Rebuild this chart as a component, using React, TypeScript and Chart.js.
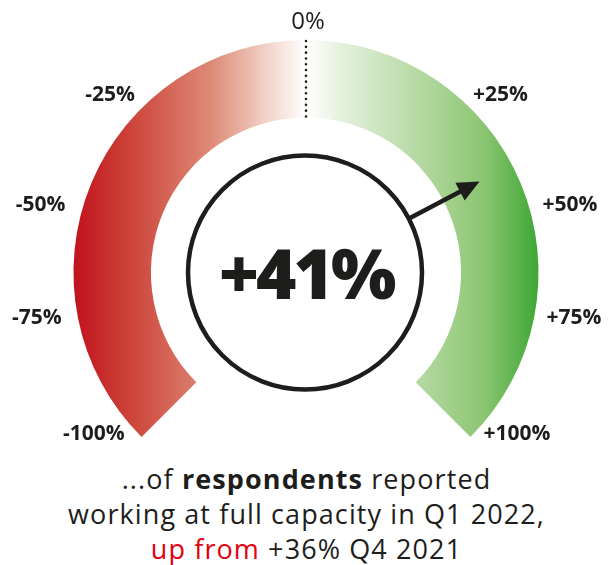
import React, { useEffect, useRef } from "react";
import { Chart, registerables } from "chart.js";

Chart.register(...registerables);

// ---- data ----
const SEGMENT_NAMES = ["Below 0%", "Above 0%"];
const SEGMENT_SPANS = [100, 100]; // -100..0 and 0..100
const TICK_VALUES = [-100, -75, -50, -25, 0, 25, 50, 75, 100];
const TICK_LABELS = ["-100%", "-75%", "-50%", "-25%", "0%", "+25%", "+50%", "+75%", "+100%"];
const CURRENT_VALUE = 41;
const CURRENT_LABEL = "+41%";
const PREVIOUS_LABEL = "+36%";
const CURRENT_PERIOD = "Q1 2022";
const PREVIOUS_PERIOD = "Q4 2021";

// ---- gauge scale (degrees from the top, for |value| = 0, 25, 50, 75, 100) ----
const SCALE_ANGLES = [0, 41.5, 74, 102, 135];
function valueToAngle(v: number): number {
  const a = Math.min(100, Math.abs(v));
  const i = Math.min(3, Math.floor(a / 25));
  const t = (a - i * 25) / 25;
  const deg = SCALE_ANGLES[i] + t * (SCALE_ANGLES[i + 1] - SCALE_ANGLES[i]);
  return (Math.sign(v) * deg * Math.PI) / 180;
}

const INK = "#1d1d1b";
const FONT = "'Open Sans', 'Noto Sans', sans-serif";

const gaugePlugin = {
  id: "gaugeDecor",
  afterDraw(chart: any) {
    const arc = chart.getDatasetMeta(0).data[0];
    if (!arc) return;
    const { x: cx, y: cy, outerRadius: R, innerRadius: r } = arc;
    const ctx = chart.ctx;
    ctx.save();

    // dotted zero line
    ctx.strokeStyle = INK;
    ctx.lineWidth = 2.6;
    ctx.lineCap = "round";
    ctx.setLineDash([0, 5.8]);
    ctx.beginPath();
    ctx.moveTo(cx, cy - R + 1);
    ctx.lineTo(cx, cy - r - 1);
    ctx.stroke();
    ctx.setLineDash([]);

    // centre circle
    const cr = 117;
    ctx.lineWidth = 4.5;
    ctx.lineCap = "butt";
    ctx.beginPath();
    ctx.arc(cx - 1, cy, cr, 0, Math.PI * 2);
    ctx.stroke();

    // arrow
    const ang = valueToAngle(CURRENT_VALUE);
    const sx = Math.sin(ang), sy = -Math.cos(ang);
    const tipR = 196, headLen = 22, headHalf = 10;
    const x0 = cx + sx * (cr + 1), y0 = cy + sy * (cr + 1);
    const xb = cx + sx * (tipR - headLen + 2), yb = cy + sy * (tipR - headLen + 2);
    ctx.lineWidth = 4.5;
    ctx.beginPath();
    ctx.moveTo(x0, y0);
    ctx.lineTo(xb, yb);
    ctx.stroke();
    const tx = cx + sx * tipR, ty = cy + sy * tipR;
    const bx = cx + sx * (tipR - headLen), by = cy + sy * (tipR - headLen);
    const px = -sy, py = sx;
    ctx.fillStyle = INK;
    ctx.beginPath();
    ctx.moveTo(tx, ty);
    ctx.lineTo(bx + px * headHalf, by + py * headHalf);
    ctx.lineTo(bx - px * headHalf, by - py * headHalf);
    ctx.closePath();
    ctx.fill();

    // value text
    ctx.fillStyle = INK;
    ctx.font = `800 69px ${FONT}`;
    try { (ctx as any).letterSpacing = "-3px"; } catch (e) {}
    ctx.textAlign = "center";
    ctx.textBaseline = "alphabetic";
    ctx.fillText(CURRENT_LABEL, cx, cy + 26);
    try { (ctx as any).letterSpacing = "0px"; } catch (e) {}

    // tick labels
    ctx.textBaseline = "middle";
    TICK_VALUES.forEach((v, i) => {
      const label = TICK_LABELS[i];
      const a = valueToAngle(v);
      if (v === 0) {
        ctx.font = `500 24px ${FONT}`;
        ctx.textAlign = "center";
        ctx.fillText(label, cx + 2, cy - R - 18);
        return;
      }
      ctx.font = `700 21px ${FONT}`;
      const w = ctx.measureText(label).width;
      const ex = cx + R * Math.sin(a);
      const ey = cy - R * Math.cos(a);
      const gap = v < 0 ? 17 : 13;
      ctx.textAlign = "center";
      const lx = v < 0 ? ex - gap - w / 2 : ex + gap + w / 2;
      ctx.fillText(label, lx, ey - 3);
    });

    ctx.restore();
  },
};

export default function App() {
  const canvasRef = useRef<HTMLCanvasElement | null>(null);

  useEffect(() => {
    const canvas = canvasRef.current;
    if (!canvas) return;
    const chart = new Chart(canvas, {
      type: "doughnut",
      data: {
        labels: SEGMENT_NAMES,
        datasets: [
          {
            data: SEGMENT_SPANS,
            borderWidth: 0,
            hoverOffset: 0,
            offset: 0,
            backgroundColor: (c: any) => {
              const area = c.chart.chartArea;
              if (!area) return "#ccc";
              const g = c.chart.ctx.createLinearGradient(area.left, 0, area.right, 0);
              g.addColorStop(0, "#c1121d");
              g.addColorStop(0.12, "#cc4238");
              g.addColorStop(0.3, "#de8c79");
              g.addColorStop(0.42, "#f3d5cb");
              g.addColorStop(0.5, "#ffffff");
              g.addColorStop(0.58, "#e4f0dc");
              g.addColorStop(0.72, "#bcdcab");
              g.addColorStop(0.88, "#8cc672");
              g.addColorStop(1, "#3da635");
              return g;
            },
          },
        ],
      },
      options: {
        animation: false,
        responsive: false,
        rotation: -135,
        circumference: 270,
        cutout: "66.7%",
        radius: 232.5,
        layout: { padding: { left: 73, right: 74, top: 40, bottom: 23 } },
        plugins: {
          legend: { display: false },
          tooltip: { enabled: false },
        },
        events: [],
      },
      plugins: [gaugePlugin],
    });
    return () => chart.destroy();
  }, []);

  return (
    <div style={{ position: "absolute", left: 0, top: 0, width: 613, height: 565, background: "#fff" }}>
      <canvas ref={canvasRef} width={613} height={460} style={{ position: "absolute", left: 0, top: 0 }} />
      <div
        style={{
          position: "absolute",
          left: 0,
          top: 461,
          width: 613,
          textAlign: "center",
          fontFamily: FONT,
          fontSize: 27,
          letterSpacing: "1.1px",
          lineHeight: "35px",
          color: INK,
        }}
      >
        <div>
          ...of <b>respondents</b> reported
        </div>
        <div>working at full capacity in {CURRENT_PERIOD},</div>
        <div>
          <span style={{ color: "#e3000f" }}>up from</span> {PREVIOUS_LABEL} {PREVIOUS_PERIOD}
        </div>
      </div>
    </div>
  );
}
